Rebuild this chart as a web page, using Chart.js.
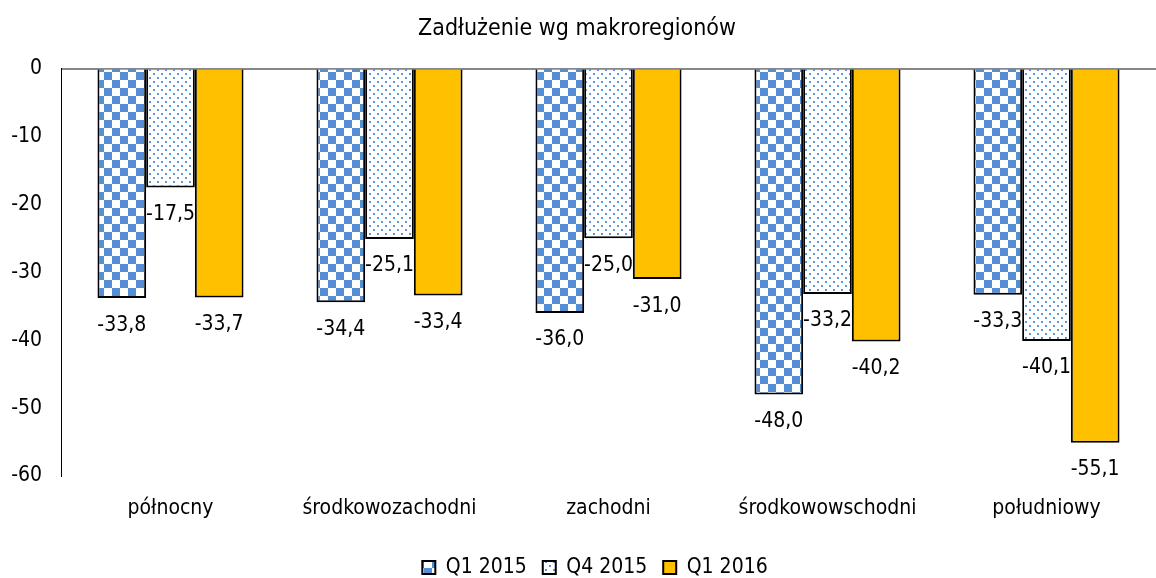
<!DOCTYPE html>
<html>
<head>
<meta charset="utf-8">
<script src="https://cdn.jsdelivr.net/npm/chart.js@4/dist/chart.umd.min.js"></script>
<style>
  html, body { margin: 0; padding: 0; background: #fff; overflow: hidden; }
  #wrap { width: 1156px; height: 578px; }
</style>
</head>
<body>
<div id="wrap"><canvas id="myChart" width="1156" height="578"></canvas></div>
<script>
// dane
const regions = ['północny', 'środkowozachodni', 'zachodni', 'środkowowschodni', 'południowy'];
const seriesNames = ['Q1 2015', 'Q4 2015', 'Q1 2016'];
const q1_2015 = [-33.8, -34.4, -36.0, -48.0, -33.3];
const q4_2015 = [-17.5, -25.1, -25.0, -33.2, -40.1];
const q1_2016 = [-33.7, -33.4, -31.0, -40.2, -55.1];
const yTicks = [0, -10, -20, -30, -40, -50, -60];

const FONT = '"DejaVu Sans Condensed", "DejaVu Sans", sans-serif';
const BLUE = '#558ed5';

// wzór szachownicy
function checkerPattern() {
  const c = document.createElement('canvas');
  c.width = 16; c.height = 16;
  const g = c.getContext('2d');
  g.fillStyle = '#fff';
  g.fillRect(0, 0, 16, 16);
  g.fillStyle = BLUE;
  g.fillRect(0, 0, 8, 8);
  g.fillRect(8, 8, 8, 8);
  return g.createPattern(c, 'repeat');
}

// wzór kropkowany
function dotPattern() {
  const c = document.createElement('canvas');
  c.width = 8; c.height = 8;
  const g = c.getContext('2d');
  g.fillStyle = '#fff';
  g.fillRect(0, 0, 8, 8);
  g.fillStyle = '#5f95da';
  g.fillRect(1, 1, 2, 2);
  g.fillRect(5, 5, 2, 2);
  return g.createPattern(c, 'repeat');
}

const fmt = v => v.toFixed(1).replace('.', ',');

// etykiety danych pod końcem słupka
const barLabels = {
  id: 'barLabels',
  afterDatasetsDraw(chart) {
    const ctx = chart.ctx;
    ctx.save();
    ctx.font = '21px ' + FONT;
    ctx.fillStyle = '#000';
    ctx.textAlign = 'center';
    ctx.textBaseline = 'middle';
    chart.data.datasets.forEach((ds, i) => {
      chart.getDatasetMeta(i).data.forEach((bar, j) => {
        ctx.fillText(fmt(ds.data[j]), bar.x, bar.y + 27);
      });
    });
    ctx.restore();
  }
};

// przesunięcie tytułu i legendy
const shiftBoxes = {
  id: 'shiftBoxes',
  afterLayout(chart) {
    const move = (box, cx) => {
      if (!box) return;
      const dx = cx - (box.left + box.right) / 2;
      box.left += dx;
      box.right += dx;
    };
    move(chart.titleBlock, 577);
    move(chart.legend, 595);
  }
};

const ctx = document.getElementById('myChart').getContext('2d');
new Chart(ctx, {
  type: 'bar',
  data: {
    labels: regions,
    datasets: [
      { label: seriesNames[0], data: q1_2015, backgroundColor: checkerPattern() },
      { label: seriesNames[1], data: q4_2015, backgroundColor: dotPattern() },
      { label: seriesNames[2], data: q1_2016, backgroundColor: '#ffc000' }
    ].map(d => Object.assign(d, {
      borderColor: '#000',
      borderWidth: 2,
      borderSkipped: 'start',
      barPercentage: 1,
      categoryPercentage: 0.667
    }))
  },
  options: {
    responsive: false,
    animation: false,
    layout: { padding: { top: 0, left: 0, right: -12, bottom: -10 } },
    plugins: {
      title: {
        display: true,
        text: 'Zadłużenie wg makroregionów',
        color: '#000',
        font: { family: FONT, size: 23, weight: 'normal' },
        padding: { top: 15, bottom: 26 }
      },
      legend: {
        position: 'bottom',
        labels: {
          color: '#000',
          font: { family: FONT, size: 21 },
          boxWidth: 13,
          boxHeight: 13,
          padding: 16
        }
      },
      tooltip: { enabled: false }
    },
    scales: {
      x: {
        grid: { display: false, drawTicks: false },
        border: { display: false },
        ticks: { color: '#000', font: { family: FONT, size: 21 }, padding: 20, maxRotation: 0 },
        afterFit(scale) { scale.height = 65; }
      },
      y: {
        min: -60,
        max: 0,
        afterBuildTicks(scale) { scale.ticks = yTicks.map(v => ({ value: v })); },
        grid: {
          drawTicks: false,
          lineWidth: 2,
          color: c => (c.tick && c.tick.value === 0 ? '#878787' : 'rgba(0,0,0,0)')
        },
        border: { display: true, color: '#000', width: 1 },
        ticks: {
          color: '#000',
          font: { family: FONT, size: 21 },
          padding: 19,
          callback: v => String(v)
        },
        afterFit(scale) { scale.width = 61; }
      }
    }
  },
  plugins: [barLabels, shiftBoxes]
});
</script>
</body>
</html>
